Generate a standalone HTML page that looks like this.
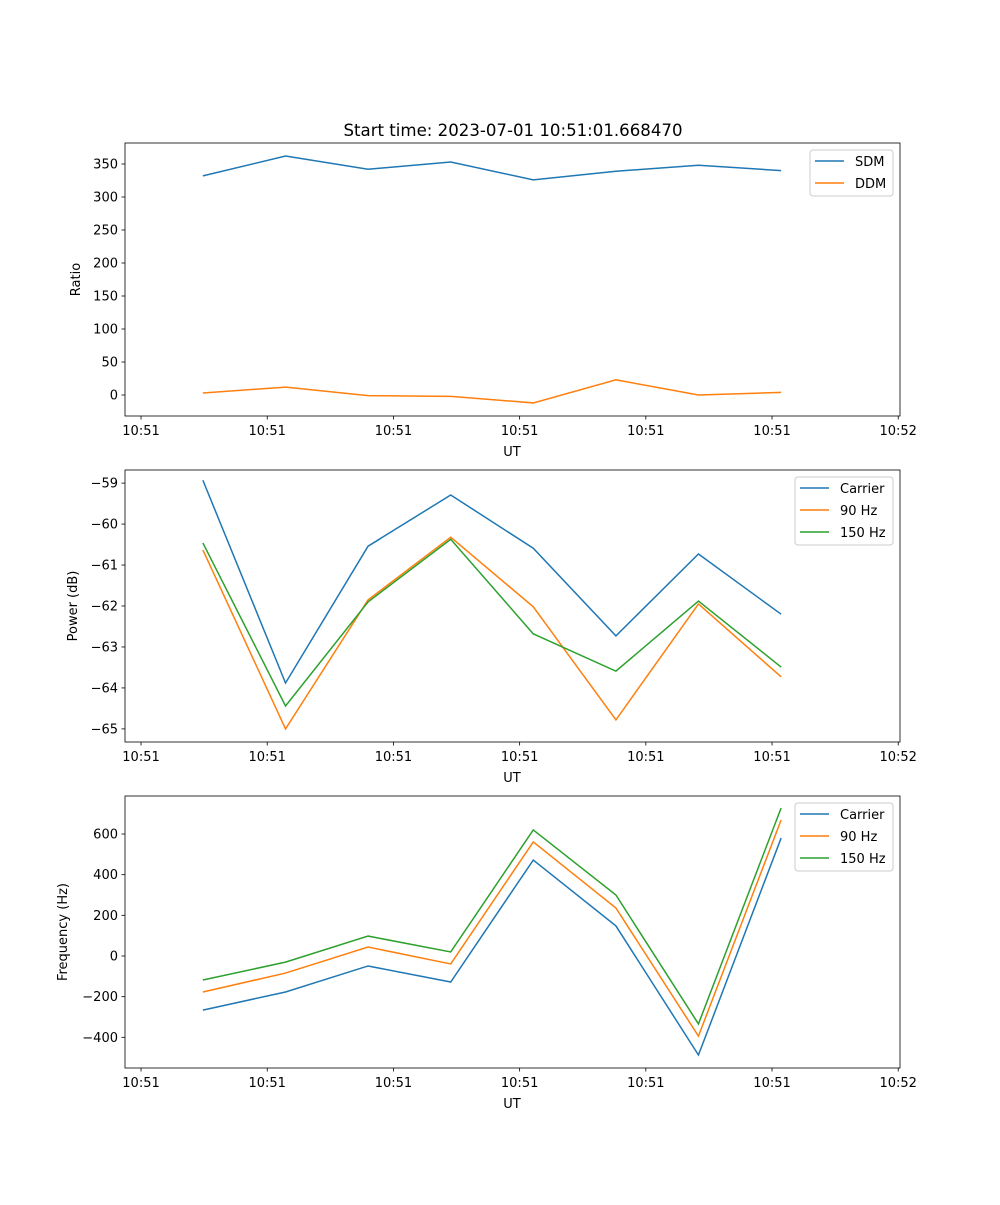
<!DOCTYPE html>
<html><head><meta charset="utf-8"><style>
body{margin:0;background:#fff}
svg text{font-family:"DejaVu Sans","Liberation Sans",sans-serif;fill:#000}
</style></head><body>
<svg id="fig" width="1000" height="1200" xmlns="http://www.w3.org/2000/svg">
<rect width="1000" height="1200" fill="#fff"/>
<text x="513" y="136" font-size="16.6" text-anchor="middle">Start time: 2023-07-01 10:51:01.668470</text>
</svg>
<script>
const times=[4.9,11.45,17.99,24.54,31.08,37.63,44.17,50.72];
const xTicks=[0,10,20,30,40,50,60];
const xTickLabels=["10:51","10:51","10:51","10:51","10:51","10:51","10:52"];
const sdm=[332,362,342,353,326,339,348,340];
const ddm=[3,12,-1,-2,-12,23,0,4];
const powCarrier=[-58.93,-63.88,-60.54,-59.29,-60.59,-62.73,-60.73,-62.20];
const pow90=[-60.63,-65.0,-61.85,-60.32,-62.02,-64.78,-61.95,-63.73];
const pow150=[-60.46,-64.44,-61.90,-60.37,-62.68,-63.59,-61.88,-63.49];
const freqCarrier=[-266,-177,-49,-128,472,148,-487,580];
const freq90=[-177,-84,44,-39,561,236,-394,669];
const freq150=[-118,-30,98,20,620,300,-334,728];
const ticks1=[0,50,100,150,200,250,300,350];
const ticks2=[-65,-64,-63,-62,-61,-60,-59];
const ticks3=[-400,-200,0,200,400,600];
const C=['#1f77b4','#ff7f0e','#2ca02c'];
const svg=document.getElementById('fig');
const NS='http://www.w3.org/2000/svg';
function mk(tag,attrs,parent){const e=document.createElementNS(NS,tag);for(const k in attrs)e.setAttribute(k,attrs[k]);(parent||svg).appendChild(e);return e;}
const L=125,R=900,xmin=-1.27,xmax=60.14;
function xs(t){return L+(t-xmin)/(xmax-xmin)*(R-L);}
function panel(name,top,bot,ymin,ymax,yticks,ylabel,ylabX,series,names,legW){
  const g=mk('g',{});
  
  
  const ys=v=>bot-(v-ymin)/(ymax-ymin)*(bot-top);
  yticks.forEach(v=>{const y=ys(v);
    mk('line',{x1:L-3.5,x2:L,y1:y,y2:y,stroke:'#000','stroke-width':0.8},g);
    const t=mk('text',{x:L-7,y:y+4.5,'font-size':13,'text-anchor':'end'},g);t.textContent=String(v).replace('-','\u2212');
    
    });
  xTicks.forEach((v,i)=>{const x=xs(v);
    mk('line',{x1:x,x2:x,y1:bot,y2:bot+3.5,stroke:'#000','stroke-width':0.8},g);
    const t=mk('text',{x:x,y:bot+19,'font-size':13,'text-anchor':'middle'},g);t.textContent=xTickLabels[i];
    
    });
  const xl=mk('text',{x:512,y:bot+40,'font-size':13,'text-anchor':'middle'},g);xl.textContent='UT';
  
  
  const cy=(top+bot)/2;
  const yl=mk('text',{x:ylabX,y:cy,'font-size':13,'text-anchor':'middle',transform:`rotate(-90 ${ylabX} ${cy})`},g);yl.textContent=ylabel;
  
  
  series.forEach((s,k)=>{
    const p=mk('polyline',{points:s.map((v,i)=>xs(times[i])+','+ys(v)).join(' '),fill:'none',stroke:C[k],'stroke-width':1.5},g);
    
    
  });
  mk('rect',{x:L,y:top,width:R-L,height:bot-top,fill:'none',stroke:'#000','stroke-width':0.8},g);
  const lx=893-legW,ly=top+7;
  const lg=mk('g',{},g);
  
  
  mk('rect',{x:lx,y:ly,width:legW,height:names.length*22+2,rx:3,fill:'#fff',stroke:'#ccc','stroke-width':1},lg);
  names.forEach((n,k)=>{const y=ly+11+k*22;
    mk('line',{x1:lx+5,x2:lx+34,y1:y,y2:y,stroke:C[k],'stroke-width':1.5},lg);
    const t=mk('text',{x:lx+45,y:y+5,'font-size':13},lg);t.textContent=n;
    
    });
}
panel('ratio-panel',143,416,-31.8,381.8,ticks1,'Ratio',80,[sdm,ddm],['SDM','DDM'],83);
panel('power-panel',470,742,-65.32,-58.68,ticks2,'Power (dB)',77,[powCarrier,pow90,pow150],['Carrier','90 Hz','150 Hz'],98);
panel('frequency-panel',796,1068,-550.8,786.9,ticks3,'Frequency (Hz)',67,[freqCarrier,freq90,freq150],['Carrier','90 Hz','150 Hz'],98);
</script>
</body></html>
